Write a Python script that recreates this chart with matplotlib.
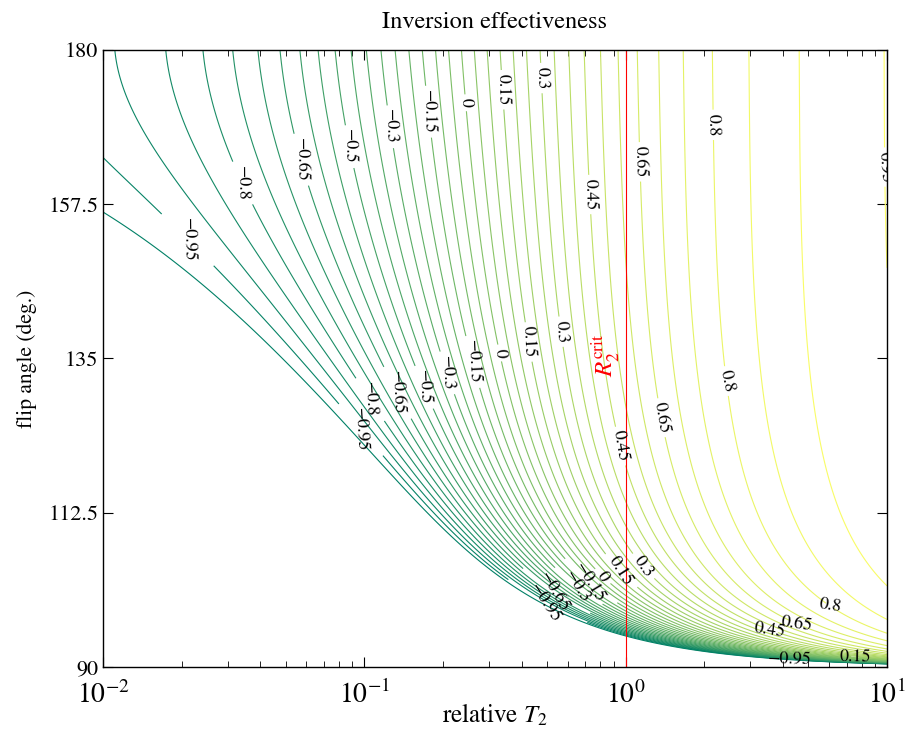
import numpy as np
import matplotlib
matplotlib.use('Agg')
import matplotlib.pyplot as plt
from matplotlib.colors import Normalize

plt.rcParams['font.family'] = ['STIXGeneral', 'DejaVu Serif']
plt.rcParams['mathtext.fontset'] = 'stix'

# axis ranges
t2_range = [1e-2, 1e1]          # relative T2 (log axis)
flip_range = [90.0, 180.0]      # flip angle, degrees
flip_ticks = [90, 112.5, 135, 157.5, 180]
flip_ticklabels = ['90', '112.5', '135', '157.5', '180']

# contour levels: 13 labelled ones, two unlabelled lines in between, one extra below
label_levels = np.linspace(-0.95, 0.95, 13)
label_texts = ['-0.95', '-0.8', '-0.65', '-0.5', '-0.3', '-0.15', '0',
               '0.15', '0.3', '0.45', '0.65', '0.8', '0.95']
step = (label_levels[1] - label_levels[0]) / 3
line_levels = label_levels[0] + step * np.arange(-1, 37)

# where each contour label sits: (relative T2, flip angle)
label_spots = {
    '-0.95': [(0.0215, 152.3), (0.0962, 124.6), (0.491, 99.3), (4.25, 91.0)],
    '-0.8': [(0.0325, 160.6), (0.1033, 129.0)],
    '-0.65': [(0.0543, 164.0), (0.1288, 130.0), (0.522, 100.8)],
    '-0.5': [(0.0808, 165.9), (0.163, 130.8)],
    '-0.3': [(0.1288, 168.8), (0.209, 132.9), (0.657, 101.7)],
    '-0.15': [(0.1784, 171.0), (0.265, 134.5), (0.718, 102.3)],
    '0': [(0.2364, 172.3), (0.325, 135.8), (0.784, 103.0)],
    '0.15': [(0.325, 174.2), (0.405, 137.4), (0.951, 103.9), (7.55, 91.5)],
    '0.3': [(0.450, 175.9), (0.546, 138.9), (1.134, 104.4)],
    '0.45': [(0.669, 158.9), (0.895, 122.1), (3.57, 95.1)],
    '0.65': [(1.186, 163.7), (1.44, 126.5), (4.53, 96.9)],
    '0.8': [(2.24, 169.1), (2.51, 131.9), (6.05, 99.5)],
    '0.95': [(9.66, 162.8)],
}

r2crit_pos = 1.0

# field: Bloch rotation with constant B1 and T2 decay (no T1), pulse length set by flip angle,
# T2 given relative to the 180 deg pulse length; effectiveness = Mz / cos(flip)
t2 = np.logspace(np.log10(t2_range[0]), np.log10(t2_range[1]), 700)
u = np.linspace(0.0005, 1.0, 900)
flip = flip_range[0] + (flip_range[1] - flip_range[0]) * u ** 3
T2, FL = np.meshgrid(t2, flip)
th = np.radians(FL)
R = 1.0 / (np.pi * T2)
om = np.sqrt(1 - R ** 2 / 4 + 0j)
mz = np.real(np.exp(-R * th / 2) * (np.cos(om * th) + (R * th / 2) * np.sinc(om * th / np.pi)))
eff = np.clip(mz / np.cos(th), -5, 5)

fig = plt.figure(figsize=(9.06, 7.31), dpi=100)
ax = fig.add_axes([103 / 906, 64 / 731, 784 / 906, 617 / 731])

cmap = plt.get_cmap('summer')
norm = Normalize(line_levels[0], line_levels[-1])

labelled = np.zeros(len(line_levels), bool)
labelled[1::3] = True
plain = line_levels[~labelled]
ax.contour(T2, FL, eff, levels=plain, colors=[cmap(norm(v)) for v in plain],
           linewidths=0.8, linestyles='solid')

for lev, txt in zip(line_levels[labelled], label_texts):
    cs = ax.contour(T2, FL, eff, levels=[lev], colors=[cmap(norm(lev))],
                    linewidths=0.8, linestyles='solid')
    ax.clabel(cs, manual=label_spots[txt], fmt={cs.levels[0]: txt.replace('-', '\u2212')},
              inline=True, inline_spacing=4, fontsize=13, colors='k')

ax.axvline(r2crit_pos, color='red', lw=0.8)
ax.text(0.835, 135.5, r'$R_2^{\mathrm{crit}}$', color='red', rotation=90,
        fontsize=18, ha='center', va='center')

ax.set_xscale('log')
ax.set_xlim(t2_range)
ax.set_ylim(flip_range)
ax.set_yticks(flip_ticks)
ax.set_yticklabels(flip_ticklabels)
ax.tick_params(which='both', direction='in', top=True, right=True)
ax.tick_params(which='major', length=7, width=0.8)
ax.tick_params(which='minor', length=4, width=0.6)
ax.tick_params(axis='x', labelsize=20, pad=10)
ax.tick_params(axis='y', labelsize=16)
for s in ax.spines.values():
    s.set_linewidth(1.0)

ax.set_title('Inversion effectiveness', fontsize=17.5, pad=16)
ax.set_xlabel(r'relative $T_2$', fontsize=18, labelpad=-5)
ax.set_ylabel('flip angle (deg.)', fontsize=15.5, labelpad=8)

fig.savefig('out.png', dpi=100)
